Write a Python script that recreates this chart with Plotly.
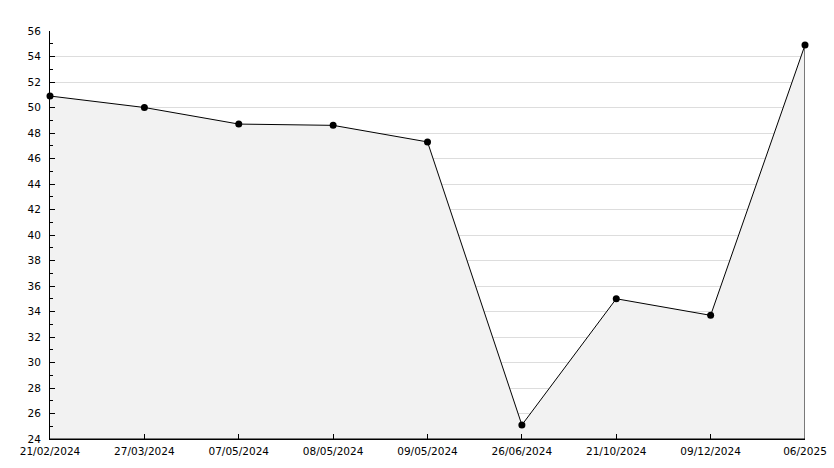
import plotly.graph_objects as go

dates = ["21/02/2024", "27/03/2024", "07/05/2024", "08/05/2024", "09/05/2024",
         "26/06/2024", "21/10/2024", "09/12/2024", "06/2025"]
values = [50.9, 50.0, 48.7, 48.6, 47.3, 25.1, 35.0, 33.7, 54.9]
y_min, y_max = 24, 56

idx = list(range(len(dates)))

fig = go.Figure()
# filled area under line (closed polygon down to axis minimum)
fig.add_trace(go.Scatter(
    x=idx + [idx[-1], idx[0]],
    y=values + [y_min, y_min],
    mode="lines", fill="toself", fillcolor="#f2f2f2",
    line=dict(color="black", width=1), hoverinfo="skip", showlegend=False))
fig.add_trace(go.Scatter(
    x=idx, y=values, mode="markers",
    marker=dict(color="black", size=7, symbol="circle"),
    showlegend=False, cliponaxis=False))

font = dict(family="DejaVu Sans", size=10.5, color="black")
fig.update_layout(
    width=834, height=468,
    margin=dict(l=50, r=29, t=31, b=29, autoexpand=False),
    paper_bgcolor="white", plot_bgcolor="white",
    font=font,
    xaxis=dict(range=[0, len(dates) - 1], tickmode="array", tickvals=idx, ticktext=dates,
               automargin=False, ticklabelstandoff=2,
               showgrid=False, zeroline=False, showline=True, linecolor="black", linewidth=1,
               ticks="inside", ticklen=5, tickcolor="black", tickfont=font),
    yaxis=dict(range=[y_min, y_max], dtick=2, tick0=0, showgrid=True, gridcolor="#dddddd",
               automargin=False,
               gridwidth=1, zeroline=False, showline=True, linecolor="black", linewidth=1,
               ticks="inside", ticklen=5, tickcolor="black", tickfont=font,
               ticklabelstandoff=6,
               minor=dict(dtick=1, ticks="inside", ticklen=3, tickcolor="black", showgrid=False)),
)
fig.write_html("out.html", config={"displayModeBar": False},
               post_script="document.body.style.margin='0';")
